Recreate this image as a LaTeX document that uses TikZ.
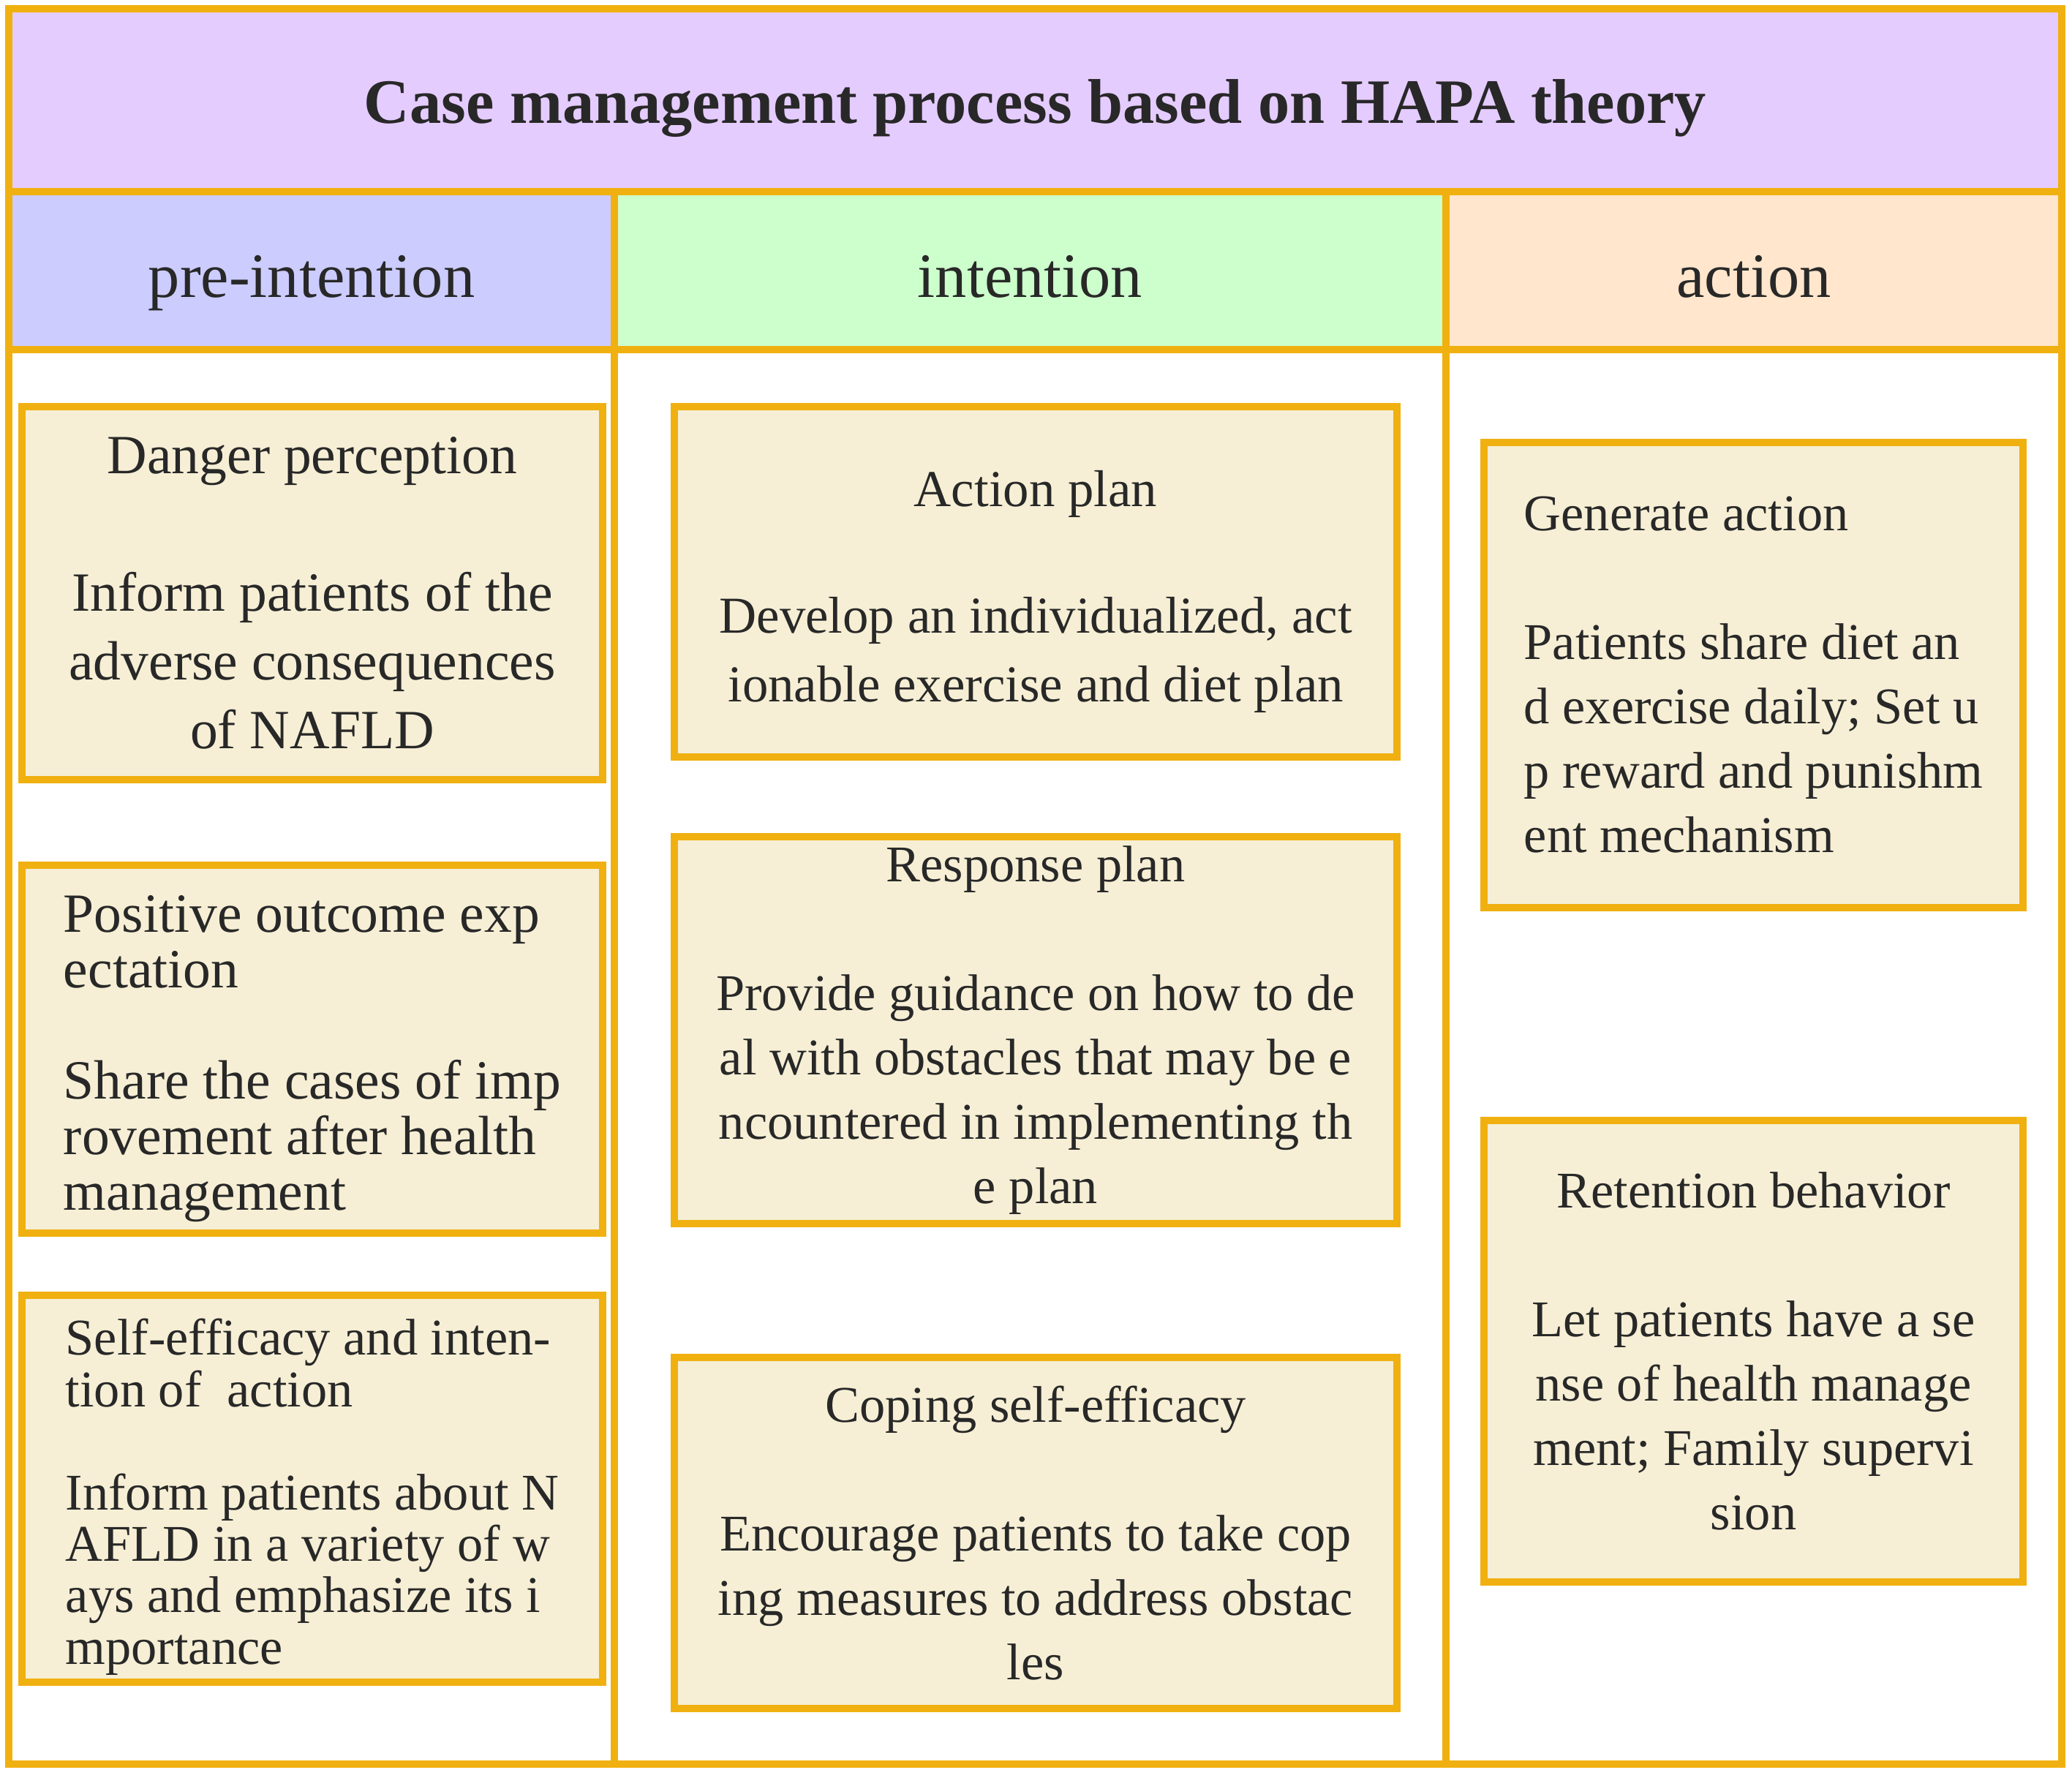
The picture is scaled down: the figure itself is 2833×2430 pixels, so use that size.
\documentclass[tikz,border=0pt]{standalone}
\usepackage{fontspec}
\setmainfont{Liberation Serif}
\definecolor{ln}{HTML}{F0B010}
\definecolor{titlefill}{HTML}{E5CCFF}
\definecolor{prefill}{HTML}{CCCCFF}
\definecolor{intfill}{HTML}{CCFFCC}
\definecolor{actfill}{HTML}{FFE6CC}
\definecolor{boxfill}{HTML}{F6EFD5}
\definecolor{txt}{HTML}{282828}
\newcommand\cellbox[7]{%
  \pgfmathsetlengthmacro\cbw{(#4-#2)*0.25pt}%
  \pgfmathsetlengthmacro\cbh{(#5-#3)*0.25pt}%
  \node[#6, minimum width=\cbw, minimum height=\cbh] (#1) at ({(#2+#4)/2},{(#3+#5)/2}) {#7};}
\tikzset{
  frame/.style={draw=ln, line width=2.3pt, inner sep=0pt, outer sep=0pt, text=txt},
  band/.style={frame, font={\fontsize{21.6}{26}\selectfont}, text depth=0pt, text height=18pt},
  card/.style={frame, fill=boxfill},
  fA/.style={font={\fontsize{18.9}{23.5}\selectfont}},
  fB/.style={font={\fontsize{18.9}{19}\selectfont}},
  fC/.style={font={\fontsize{17.6}{17.6}\selectfont}},
  fD/.style={font={\fontsize{17.7}{23.5}\selectfont}},
  fE/.style={font={\fontsize{17.6}{22}\selectfont}}
}
\begin{document}
\begin{tikzpicture}[x=0.25pt,y=-0.25pt]
\useasboundingbox (0,0) rectangle (2833,2430);
% title band
\cellbox{title}{12}{12}{2819}{262}{band, fill=titlefill, text height=15.5pt, font={\fontsize{21.6}{26}\selectfont\bfseries}}{Case management process based on HAPA theory}
% headers
\cellbox{hpre}{12}{262}{840}{478}{band, fill=prefill}{pre-intention}
\cellbox{hint}{840}{262}{1977}{478}{band, fill=intfill}{intention}
\cellbox{hact}{1977}{262}{2819}{478}{band, fill=actfill}{action}
% column bodies
\cellbox{cpre}{12}{478}{840}{2412}{frame, fill=white}{}
\cellbox{cint}{840}{478}{1977}{2412}{frame, fill=white}{}
\cellbox{cact}{1977}{478}{2819}{2412}{frame, fill=white}{}
% pre-intention cards
\cellbox{l1}{30}{556}{824}{1066}{card, fA, align=center}{Danger perception\\[\baselineskip]Inform patients of the\\adverse consequences\\of NAFLD}
\cellbox{l2}{30}{1183}{824}{1686}{card, fB, align=left}{\rule{0pt}{19pt}Positive outcome exp\\ectation\\[\baselineskip]Share the cases of imp\\rovement after health\\management}
\cellbox{l3}{30}{1771}{824}{2300}{card, fC, align=left}{\rule{0pt}{18pt}Self-efficacy and inten-\\tion of\ \ action\\[\baselineskip]Inform patients about N\\AFLD in a variety of w\\ays and emphasize its i\\mportance}
% intention cards
\cellbox{m1}{922}{556}{1910}{1035}{card, fD, align=center}{\rule{0pt}{19pt}Action plan\\[0.85\baselineskip]Develop an individualized, act\\ionable exercise and diet plan}
\cellbox{m2}{922}{1144}{1910}{1673}{card, fE, align=center}{Response plan\\[\baselineskip]Provide guidance on how to de\\al with obstacles that may be e\\ncountered in implementing th\\e plan}
\cellbox{m3}{922}{1856}{1910}{2336}{card, fE, align=center}{Coping self-efficacy\\[\baselineskip]Encourage patients to take cop\\ing measures to address obstac\\les}
% action cards
\cellbox{r1}{2029}{605}{2766}{1241}{card, fE, align=left}{Generate action\\[\baselineskip]Patients share diet an\\d exercise daily; Set u\\p reward and punishm\\ent mechanism}
\cellbox{r2}{2029}{1532}{2766}{2163}{card, fE, align=center}{Retention behavior\\[\baselineskip]Let patients have a se\\nse of health manage\\ment; Family supervi\\sion}
\end{tikzpicture}
\end{document}
